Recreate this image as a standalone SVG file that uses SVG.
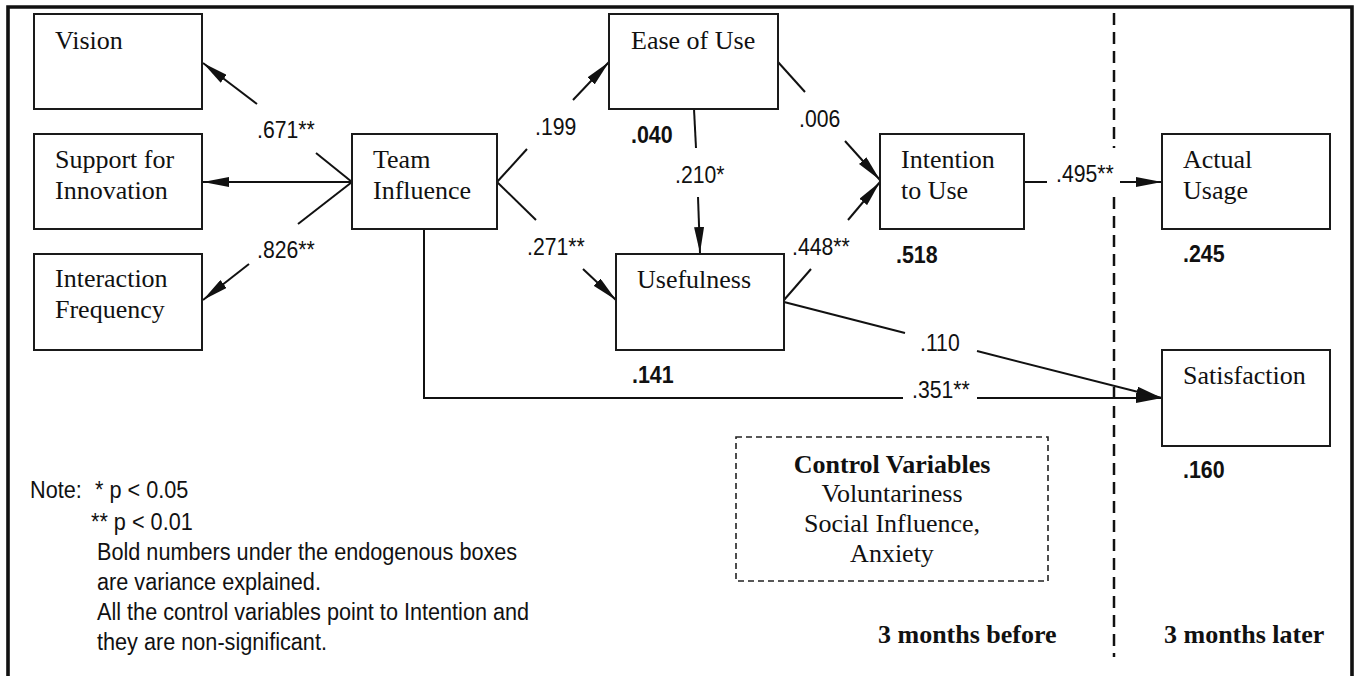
<svg xmlns="http://www.w3.org/2000/svg" width="1360" height="676" viewBox="0 0 1360 676">
<defs>
<style>
.box{fill:#fff;stroke:#1a1a1a;stroke-width:2}
.t{font-family:"Liberation Serif","Times New Roman",serif;font-size:26px;fill:#111}
.tb{font-family:"Liberation Serif","Times New Roman",serif;font-size:26px;font-weight:bold;fill:#111}
.n{font-family:"Liberation Sans",Arial,sans-serif;font-size:23.3px;fill:#111}
.nb{font-family:"Liberation Sans",Arial,sans-serif;font-size:24.5px;font-weight:bold;fill:#111}
.c{fill:none;stroke:#111;stroke-width:2}
.dash{fill:none;stroke:#111;stroke-width:2.5;stroke-dasharray:12 7}
.dbox{fill:none;stroke:#222;stroke-width:1.6;stroke-dasharray:6 4}
</style>
<marker id="ah" markerUnits="userSpaceOnUse" markerWidth="26" markerHeight="10" refX="26" refY="5" orient="auto" viewBox="0 0 26 10">
<path d="M0,0 L26,5 L0,10 z" fill="#111"/>
</marker>
</defs>
<rect width="1360" height="676" fill="#fff"/>
<path d="M8,676 V7 H1352 V676" fill="none" stroke="#111" stroke-width="3.6"/>

<g id="connectors">
<line class="c" x1="352" y1="182" x2="316" y2="153"/>
<line class="c" x1="257" y1="104" x2="203" y2="63" marker-end="url(#ah)"/>
<line class="c" x1="352" y1="182" x2="203" y2="182" marker-end="url(#ah)"/>
<line class="c" x1="352" y1="182" x2="298" y2="224"/>
<line class="c" x1="249" y1="264" x2="203" y2="300" marker-end="url(#ah)"/>
<line class="c" x1="497" y1="182" x2="527" y2="149"/>
<line class="c" x1="573" y1="100" x2="609" y2="62" marker-end="url(#ah)"/>
<line class="c" x1="497" y1="182" x2="536" y2="220"/>
<line class="c" x1="583" y1="269" x2="616" y2="300" marker-end="url(#ah)"/>
<line class="c" x1="694" y1="109" x2="696" y2="148"/>
<line class="c" x1="698" y1="197" x2="700" y2="253" marker-end="url(#ah)"/>
<line class="c" x1="778" y1="62" x2="805" y2="92"/>
<line class="c" x1="845" y1="141" x2="880" y2="180" marker-end="url(#ah)"/>
<line class="c" x1="784" y1="300" x2="811" y2="269"/>
<line class="c" x1="848" y1="220" x2="880" y2="182" marker-end="url(#ah)"/>
<line class="c" x1="1024" y1="182" x2="1047" y2="182"/>
<line class="c" x1="1120" y1="182" x2="1162" y2="182" marker-end="url(#ah)"/>
<line class="c" x1="784" y1="302" x2="905" y2="333"/>
<line class="c" x1="977" y1="351" x2="1162" y2="398" marker-end="url(#ah)"/>
<polyline class="c" points="424,229 424,398 903,398"/>
<line class="c" x1="977" y1="398" x2="1162" y2="398" marker-end="url(#ah)"/>

<text class="n" transform="translate(257 138) scale(0.91 1)">.671**</text>
<text class="n" transform="translate(257 258) scale(0.91 1)">.826**</text>
<text class="n" transform="translate(535 135) scale(0.91 1)">.199</text>
<text class="n" transform="translate(527 255) scale(0.91 1)">.271**</text>
<text class="n" transform="translate(675 183) scale(0.91 1)">.210*</text>
<text class="n" transform="translate(799 127) scale(0.91 1)">.006</text>
<text class="n" transform="translate(792 255) scale(0.91 1)">.448**</text>
<text class="n" transform="translate(1056 182) scale(0.91 1)">.495**</text>
<text class="n" transform="translate(920 351) scale(0.91 1)">.110</text>
<text class="n" transform="translate(912 398) scale(0.91 1)">.351**</text>
</g>

<g id="divider">
<line class="dash" x1="1114" y1="13" x2="1114" y2="148"/>
<line class="dash" x1="1114" y1="197" x2="1114" y2="657"/>
</g>

<g id="vision">
<rect class="box" x="34" y="14" width="168" height="95"/>
<text class="t" x="55" y="49">Vision</text>
</g>
<g id="support">
<rect class="box" x="34" y="134" width="168" height="95"/>
<text class="t" x="55" y="168">Support for</text>
<text class="t" x="55" y="199">Innovation</text>
</g>
<g id="interaction">
<rect class="box" x="34" y="254" width="168" height="96"/>
<text class="t" x="55" y="287">Interaction</text>
<text class="t" x="55" y="318">Frequency</text>
</g>
<g id="team">
<rect class="box" x="352" y="134" width="145" height="95"/>
<text class="t" x="373" y="168">Team</text>
<text class="t" x="373" y="199">Influence</text>
</g>
<g id="ease">
<rect class="box" x="609" y="14" width="169" height="95"/>
<text class="t" x="631" y="49">Ease of Use</text>
<text class="nb" transform="translate(631 143) scale(0.875 1)">.040</text>
</g>
<g id="usefulness">
<rect class="box" x="616" y="254" width="168" height="96"/>
<text class="t" x="637" y="288">Usefulness</text>
<text class="nb" transform="translate(632 383) scale(0.875 1)">.141</text>
</g>
<g id="intention">
<rect class="box" x="880" y="134" width="144" height="95"/>
<text class="t" x="901" y="168">Intention</text>
<text class="t" x="901" y="199">to Use</text>
<text class="nb" transform="translate(896 263) scale(0.875 1)">.518</text>
</g>
<g id="actual">
<rect class="box" x="1162" y="134" width="168" height="95"/>
<text class="t" x="1183" y="168">Actual</text>
<text class="t" x="1183" y="199">Usage</text>
<text class="nb" transform="translate(1183 262) scale(0.875 1)">.245</text>
</g>
<g id="satisfaction">
<rect class="box" x="1162" y="350" width="168" height="96"/>
<text class="t" x="1183" y="384">Satisfaction</text>
<text class="nb" transform="translate(1183 478) scale(0.875 1)">.160</text>
</g>
<g id="controls">
<rect class="dbox" x="736" y="437" width="312" height="144"/>
<text class="tb" x="892" y="473" text-anchor="middle">Control Variables</text>
<text class="t" x="892" y="502" text-anchor="middle">Voluntariness</text>
<text class="t" x="892" y="532" text-anchor="middle">Social Influence,</text>
<text class="t" x="892" y="562" text-anchor="middle">Anxiety</text>
</g>
<g id="periods">
<text class="tb" x="878" y="643">3 months before</text>
<text class="tb" x="1164" y="643">3 months later</text>
</g>
<g id="note">
<text class="n" transform="translate(30 498) scale(0.93 1)">Note:</text>
<text class="n" transform="translate(95 498) scale(0.93 1)">* p &lt; 0.05</text>
<text class="n" transform="translate(91 530) scale(0.93 1)">** p &lt; 0.01</text>
<text class="n" transform="translate(97 560) scale(0.93 1)">Bold numbers under the endogenous boxes</text>
<text class="n" transform="translate(97 590) scale(0.93 1)">are variance explained.</text>
<text class="n" transform="translate(97 620) scale(0.93 1)">All the control variables point to Intention and</text>
<text class="n" transform="translate(97 650) scale(0.93 1)">they are non-significant.</text>
</g>
</svg>
